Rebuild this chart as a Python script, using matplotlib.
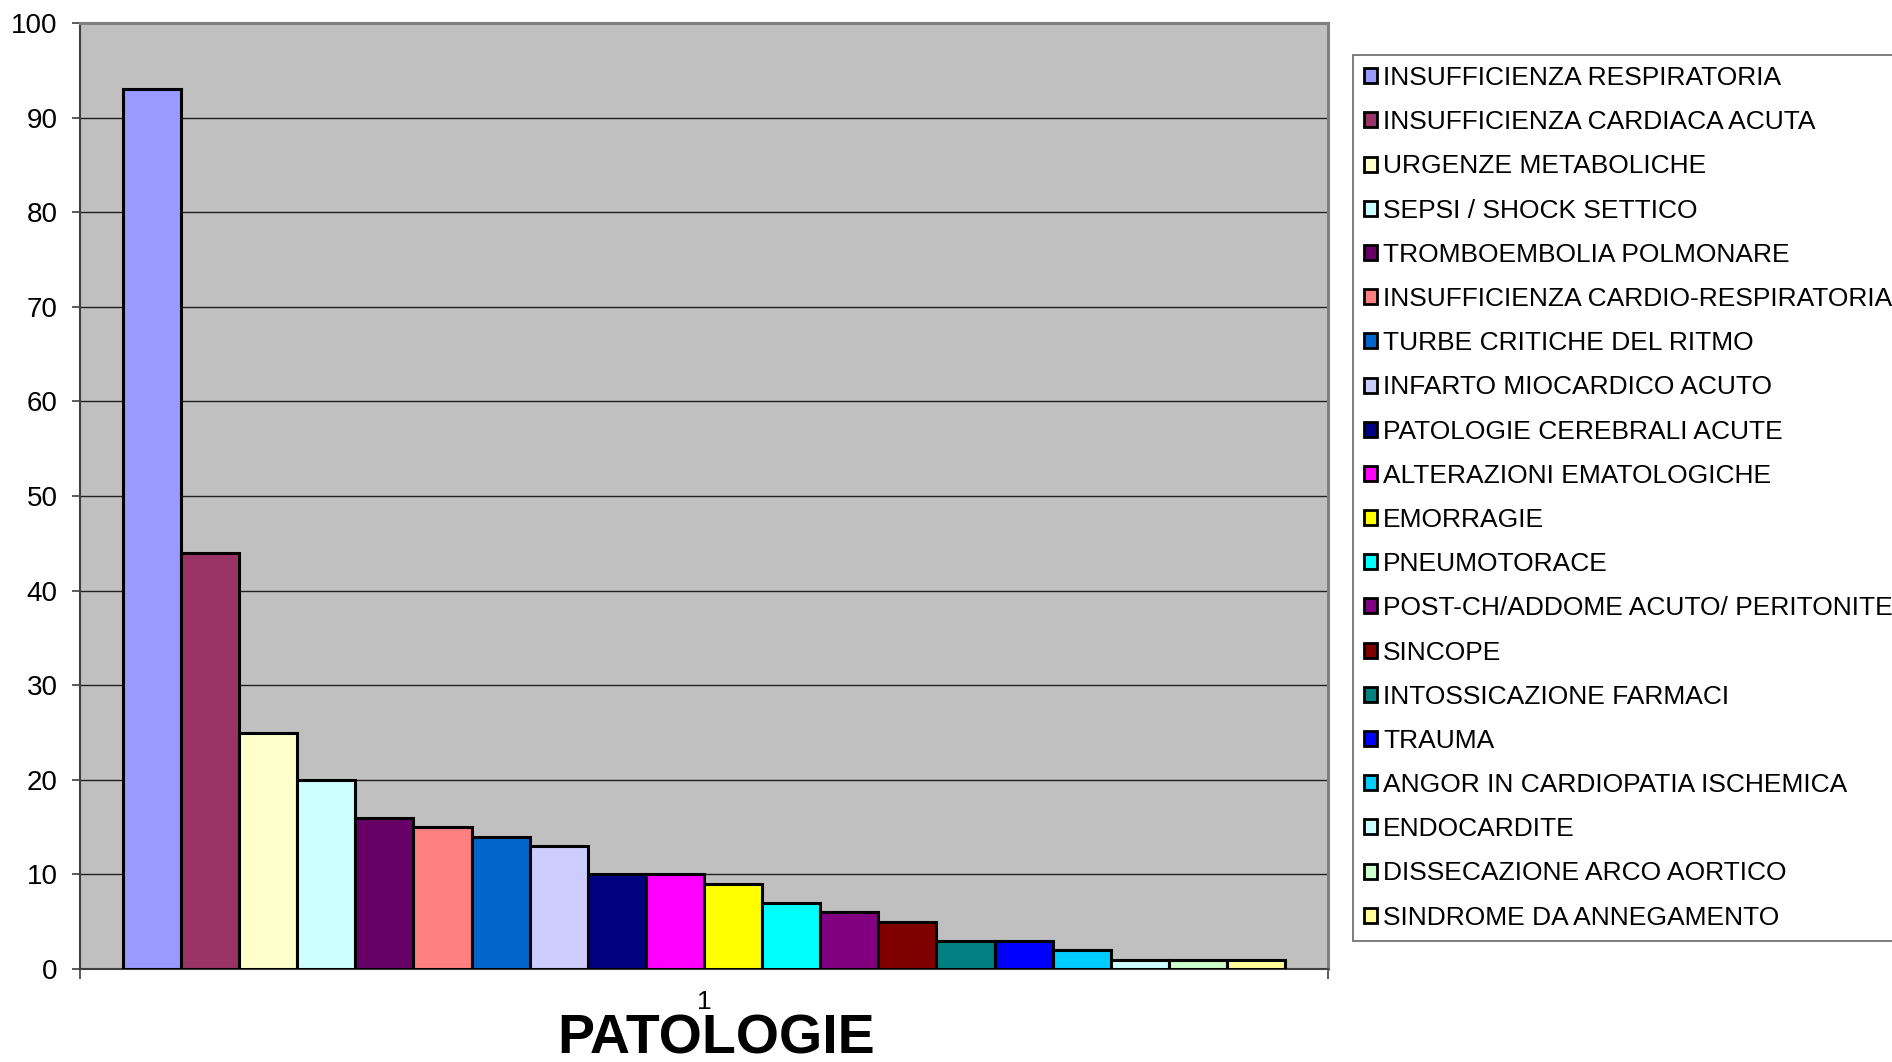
import matplotlib
matplotlib.use("Agg")
import matplotlib.pyplot as plt
import numpy as np

plt.rcParams['font.family'] = ['Liberation Sans', 'DejaVu Sans']

# dati
patologie = [
    "INSUFFICIENZA RESPIRATORIA", "INSUFFICIENZA CARDIACA ACUTA",
    "URGENZE METABOLICHE", "SEPSI / SHOCK SETTICO",
    "TROMBOEMBOLIA POLMONARE", "INSUFFICIENZA CARDIO-RESPIRATORIA",
    "TURBE CRITICHE DEL RITMO", "INFARTO MIOCARDICO ACUTO",
    "PATOLOGIE CEREBRALI ACUTE", "ALTERAZIONI EMATOLOGICHE",
    "EMORRAGIE", "PNEUMOTORACE",
    "POST-CH/ADDOME ACUTO/ PERITONITE", "SINCOPE",
    "INTOSSICAZIONE FARMACI", "TRAUMA",
    "ANGOR IN CARDIOPATIA ISCHEMICA", "ENDOCARDITE",
    "DISSECAZIONE ARCO AORTICO", "SINDROME DA ANNEGAMENTO",
]
casi = [93, 44, 25, 20, 16, 15, 14, 13, 10, 10, 9, 7, 6, 5, 3, 3, 2, 1, 1, 1]
colori = [
    "#9999FF", "#993366", "#FFFFCC", "#CCFFFF", "#660066", "#FF8080",
    "#0066CC", "#CCCCFF", "#000080", "#FF00FF", "#FFFF00", "#00FFFF",
    "#800080", "#800000", "#008080", "#0000FF", "#00CCFF", "#CCFFFF",
    "#CCFFCC", "#FFFF99",
]
yticks = [0, 10, 20, 30, 40, 50, 60, 70, 80, 90, 100]

fig = plt.figure(figsize=(18.92, 10.62), dpi=100)
ax = fig.add_axes([80 / 1892, 1 - 969 / 1062, 1248 / 1892, 946 / 1062])
ax.set_facecolor("#C0C0C0")

x = np.arange(len(casi))
for i in range(len(casi)):
    ax.bar(x[i], casi[i], width=1.0, color=colori[i], edgecolor="black",
           linewidth=2.2, label=patologie[i], zorder=3)

ax.set_ylim(0, 100)
ax.set_xlim(-0.5 - 0.74, len(casi) - 0.5 + 0.74)
ax.set_yticks(yticks)
ax.tick_params(axis='y', labelsize=20, length=6, width=1.2, pad=10,
               color="#404040", direction='out')
ax.set_xticks([(len(casi) - 1) / 2])
ax.set_xticklabels(["1"])
ax.tick_params(axis='x', which='major', length=0, labelsize=19, pad=15)
ax.set_xticks(list(ax.get_xlim()), minor=True)
ax.tick_params(axis='x', which='minor', length=7, width=1.2, color="#404040")

ax.grid(axis='y', color="#202020", linewidth=1.0, zorder=1)
ax.set_axisbelow(True)
for s in ["top", "right"]:
    ax.spines[s].set_color("#808080")
    ax.spines[s].set_linewidth(2.2)
for s in ["left", "bottom"]:
    ax.spines[s].set_color("#404040")
    ax.spines[s].set_linewidth(1.5)

fig.text(716 / 1892, 1 - 1054 / 1062, "PATOLOGIE", fontsize=40,
         fontweight='bold', ha='center', va='baseline')

leg = fig.legend(loc='upper left', bbox_to_anchor=(1353 / 1892, 1 - 55 / 1062),
                 bbox_transform=fig.transFigure, fontsize=19, frameon=True,
                 fancybox=False, edgecolor="#404040", borderpad=0.42,
                 labelspacing=0.765, handlelength=0.5, handleheight=0.5,
                 handletextpad=0.22, borderaxespad=0)
leg.get_frame().set_linewidth(1.2)
for h in leg.legend_handles:
    h.set_linewidth(2.0)

fig.savefig("out.png", dpi=100)
